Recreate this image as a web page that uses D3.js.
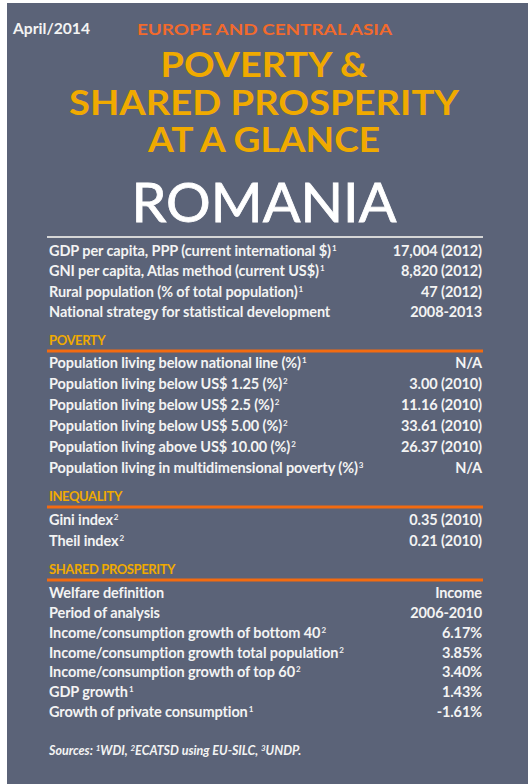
<!DOCTYPE html>
<html>
<head>
<meta charset="utf-8">
<script src="https://cdn.jsdelivr.net/npm/d3@7"></script>
<style>
  body { margin: 0; background: #fff; }
  text { font-family: Lato, "Open Sans", sans-serif; }
</style>
</head>
<body>
<div id="sheet"></div>
<script>
// data
var countryName = "ROMANIA";
var issueDate = "April/2014";
var regionName = "EUROPE AND CENTRAL ASIA";
var titleLines = ["POVERTY &", "SHARED PROSPERITY", "AT A GLANCE"];

var headerLabels = ["GDP per capita, PPP (current international $)", "GNI per capita, Atlas method (current US$)",
  "Rural population (% of total population)", "National strategy for statistical development"];
var headerNotes = ["1", "1", "1", ""];
var headerValues = ["17,004 (2012)", "8,820 (2012)", "47 (2012)", "2008-2013"];

var povertyLabels = ["Population living below national line (%)", "Population living below US$ 1.25 (%)",
  "Population living below US$ 2.5 (%)", "Population living below US$ 5.00 (%)",
  "Population living above US$ 10.00 (%)", "Population living in multidimensional poverty (%)"];
var povertyNotes = ["1", "2", "2", "2", "2", "3"];
var povertyValues = ["N/A", "3.00 (2010)", "11.16 (2010)", "33.61 (2010)", "26.37 (2010)", "N/A"];

var inequalityLabels = ["Gini index", "Theil index"];
var inequalityNotes = ["2", "2"];
var inequalityValues = ["0.35 (2010)", "0.21 (2010)"];

var prosperityLabels = ["Welfare definition", "Period of analysis", "Income/consumption growth of bottom 40",
  "Income/consumption growth total population", "Income/consumption growth of top 60",
  "GDP growth", "Growth of private consumption"];
var prosperityNotes = ["", "", "2", "2", "2", "1", "1"];
var prosperityValues = ["Income", "2006-2010", "6.17%", "3.85%", "3.40%", "1.43%", "-1.61%"];

var sourceNotes = ["1", "2", "3"];
var sourceNames = ["WDI, ", "ECATSD using EU-SILC, ", "UNDP."];

// page size
var svgWidth = 528;
var svgHeight = 784;

var colors = {
  panel: "#5b6378",
  text: "#f3f3f3",
  gold: "#f0aa00",
  orange: "#f36b10",
  region: "#f26a2c",
  rule: "#d6d6d6"
};

var svg = d3.select("#sheet").append("svg")
  .attr("width", svgWidth)
  .attr("height", svgHeight);

svg.append("rect")
  .attr("x", 7)
  .attr("y", 3)
  .attr("width", svgWidth - 7)
  .attr("height", svgHeight - 3)
  .attr("fill", colors.panel);

// columns of the table
var xCol = d3.scaleLinear().domain([0, 1]).range([49, 482]);
var centerX = 264;

// header
svg.append("text")
  .attr("x", 13)
  .attr("y", 34)
  .attr("fill", colors.text)
  .attr("font-size", 14.5)
  .attr("font-weight", "bold")
  .attr("textLength", 77)
  .attr("lengthAdjust", "spacingAndGlyphs")
  .text(issueDate);

svg.append("text")
  .attr("x", 137)
  .attr("y", 35)
  .attr("fill", colors.region)
  .attr("font-size", 15.5)
  .attr("font-weight", "bold")
  .attr("textLength", 255)
  .attr("lengthAdjust", "spacingAndGlyphs")
  .text(regionName);

var titleY = d3.scalePoint().domain(titleLines).range([77, 152]);
var titleWidths = [207, 390, 232];

svg.selectAll(".title")
  .data(titleLines)
  .enter()
  .append("text")
  .attr("class", "title")
  .attr("x", centerX)
  .attr("y", d => titleY(d))
  .attr("text-anchor", "middle")
  .attr("fill", colors.gold)
  .attr("font-size", 34)
  .attr("font-weight", "bold")
  .attr("textLength", (d, i) => titleWidths[i])
  .attr("lengthAdjust", "spacingAndGlyphs")
  .text(d => d);

svg.append("text")
  .attr("x", centerX)
  .attr("y", 222)
  .attr("text-anchor", "middle")
  .attr("fill", "#ffffff")
  .attr("font-size", 55)
  .attr("stroke", "#ffffff")
  .attr("stroke-width", 0.8)
  .attr("textLength", 265)
  .attr("lengthAdjust", "spacingAndGlyphs")
  .text(countryName);

svg.append("line")
  .attr("x1", 47).attr("x2", 483)
  .attr("y1", 237).attr("y2", 237)
  .attr("stroke", colors.rule)
  .attr("stroke-width", 2);

// one block of label / value rows
function drawRows(labels, notes, values, firstY, lastY) {
  var yRow = d3.scaleLinear()
    .domain([0, labels.length - 1])
    .range([firstY, lastY]);

  var rows = svg.append("g").selectAll("g")
    .data(labels)
    .enter()
    .append("g")
    .attr("transform", (d, i) => `translate(0, ${yRow(i)})`);

  var label = rows.append("text")
    .attr("x", xCol(0))
    .attr("fill", colors.text)
    .attr("font-size", 14.5)
    .attr("font-weight", "bold")
    .attr("letter-spacing", -0.1);
  label.append("tspan").text(d => d);
  label.append("tspan")
    .attr("dy", -5)
    .attr("dx", 1)
    .attr("font-size", 8)
    .text((d, i) => notes[i]);

  rows.append("text")
    .attr("x", xCol(1))
    .attr("text-anchor", "end")
    .attr("fill", colors.text)
    .attr("font-size", 14.5)
    .attr("font-weight", "bold")
    .attr("letter-spacing", -0.1)
    .text((d, i) => values[i]);
}

function drawSection(name, labelY) {
  svg.append("text")
    .attr("x", 49)
    .attr("y", labelY)
    .attr("fill", colors.gold)
    .attr("font-size", 13)
    .attr("font-weight", "bold")
    .attr("letter-spacing", -0.4)
    .text(name);
  svg.append("line")
    .attr("x1", 47).attr("x2", 483)
    .attr("y1", labelY + 6).attr("y2", labelY + 6)
    .attr("stroke", colors.orange)
    .attr("stroke-width", 3);
}

drawRows(headerLabels, headerNotes, headerValues, 256, 317);

drawSection("POVERTY", 345);
drawRows(povertyLabels, povertyNotes, povertyValues, 368, 473);

drawSection("INEQUALITY", 501);
drawRows(inequalityLabels, inequalityNotes, inequalityValues, 525, 546);

drawSection("SHARED PROSPERITY", 574);
drawRows(prosperityLabels, prosperityNotes, prosperityValues, 598, 717);

// sources line
var sources = svg.append("text")
  .attr("x", 49)
  .attr("y", 755)
  .attr("fill", colors.text)
  .attr("font-size", 12.5)
  .attr("font-weight", "bold")
  .attr("font-style", "italic");
sources.append("tspan").text("Sources: ");
sourceNotes.forEach(function(n, i) {
  sources.append("tspan").attr("dy", -4).attr("font-size", 8).text(n);
  sources.append("tspan").attr("dy", 4).text(sourceNames[i]);
});
</script>
</body>
</html>
